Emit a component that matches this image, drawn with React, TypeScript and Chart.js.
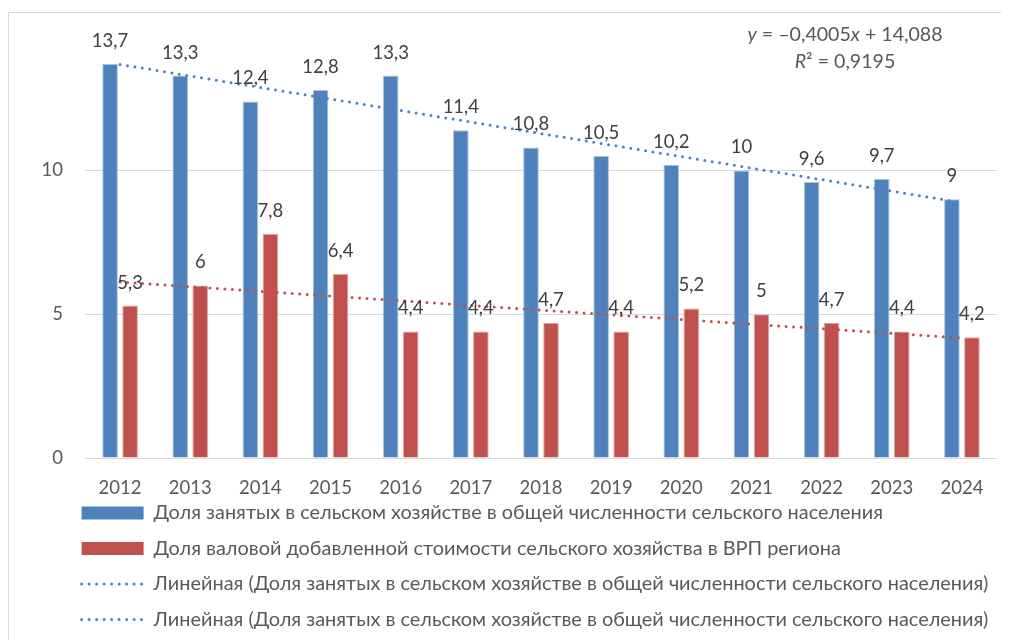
import React, { useEffect, useRef } from "react";
import { Chart, registerables } from "chart.js";

Chart.register(...registerables);

const categories = ["2012", "2013", "2014", "2015", "2016", "2017", "2018", "2019", "2020", "2021", "2022", "2023", "2024"];
const employmentShare = [13.7, 13.3, 12.4, 12.8, 13.3, 11.4, 10.8, 10.5, 10.2, 10, 9.6, 9.7, 9];
const gvaShare = [5.3, 6, 7.8, 6.4, 4.4, 4.4, 4.7, 4.4, 5.2, 5, 4.7, 4.4, 4.2];
const yTickValues = [0, 5, 10];
const seriesNames = [
  "Доля занятых в сельском хозяйстве в общей численности сельского населения",
  "Доля валовой добавленной стоимости сельского хозяйства в ВРП региона",
];
const legendTexts = [
  "Доля занятых в сельском хозяйстве в общей численности сельского населения",
  "Доля валовой добавленной стоимости сельского хозяйства в ВРП региона",
  "Линейная (Доля занятых в сельском хозяйстве в общей численности сельского населения)",
  "Линейная (Доля занятых в сельском хозяйстве в общей численности сельского населения)",
];

const BLUE = "#4f81bd";
const RED = "#c0504d";
const legendColors = [BLUE, RED, BLUE, BLUE];
const FONT = "Lato, 'Noto Sans', sans-serif";
const TEXT = "#595959";
const LABEL = "#404040";

function linearFit(values: number[]) {
  const n = values.length;
  const xs = values.map((_, i) => i + 1);
  const mx = xs.reduce((a, b) => a + b, 0) / n;
  const my = values.reduce((a, b) => a + b, 0) / n;
  let sxy = 0, sxx = 0, sst = 0;
  for (let i = 0; i < n; i++) {
    sxy += (xs[i] - mx) * (values[i] - my);
    sxx += (xs[i] - mx) ** 2;
    sst += (values[i] - my) ** 2;
  }
  const slope = sxy / sxx;
  const intercept = my - slope * mx;
  const fitted = xs.map((x) => slope * x + intercept);
  const ssr = fitted.reduce((a, f) => a + (f - my) ** 2, 0);
  return { slope, intercept, r2: ssr / sst, fitted };
}

const fmt = (v: number) => String(v).replace(".", ",");

export default function App() {
  const ref = useRef<HTMLCanvasElement | null>(null);

  useEffect(() => {
    document.body.style.overflow = "hidden";
    const blueFit = linearFit(employmentShare);
    const redFit = linearFit(gvaShare);

    const framePlugin = {
      id: "frame",
      afterLayout(chart: any) {
        const lg = chart.legend;
        if (lg) {
          lg.left = 58;
          lg.top = chart.chartArea.bottom + 29.45;
        }
      },
      beforeDraw(chart: any) {
        const ctx = chart.ctx;
        ctx.save();
        ctx.strokeStyle = "#d9d9d9";
        ctx.lineWidth = 1;
        ctx.beginPath();
        ctx.moveTo(0.5, chart.height);
        ctx.lineTo(0.5, 4.5);
        ctx.lineTo(chart.width, 4.5);
        ctx.stroke();
        ctx.restore();
      },
    };

    const labelPlugin = {
      id: "barLabels",
      afterDatasetsDraw(chart: any) {
        const ctx = chart.ctx;
        ctx.save();
        ctx.font = `18.5px ${FONT}`;
        ctx.fillStyle = LABEL;
        ctx.textAlign = "center";
        ctx.textBaseline = "middle";
        [0, 1].forEach((di) => {
          const meta = chart.getDatasetMeta(di);
          const data = chart.data.datasets[di].data as number[];
          meta.data.forEach((bar: any, i: number) => {
            ctx.fillText(fmt(data[i]), bar.x, bar.y - 23);
          });
        });
        ctx.restore();
      },
    };

    const equationPlugin = {
      id: "equation",
      afterDraw(chart: any) {
        const ctx = chart.ctx;
        const cx = chart.chartArea.right - 152;
        const y1 = 27;
        const y2 = 54;
        const slope = blueFit.slope.toFixed(4).replace("-", "–").replace(".", ",");
        const intercept = blueFit.intercept.toFixed(3).replace(".", ",");
        const r2 = blueFit.r2.toFixed(4).replace(".", ",");
        const size = 19.6;
        const drawParts = (parts: [string, boolean][], y: number) => {
          const widths = parts.map(([t, it]) => {
            ctx.font = `${it ? "italic " : ""}${size}px ${FONT}`;
            return ctx.measureText(t).width;
          });
          const total = widths.reduce((a, b) => a + b, 0);
          let x = cx - total / 2;
          parts.forEach(([t, it], i) => {
            ctx.font = `${it ? "italic " : ""}${size}px ${FONT}`;
            ctx.fillText(t, x, y);
            x += widths[i];
          });
        };
        ctx.save();
        ctx.fillStyle = TEXT;
        ctx.textAlign = "left";
        ctx.textBaseline = "middle";
        drawParts([["y", true], [` = ${slope}`, false], ["x", true], [` + ${intercept}`, false]], y1);
        drawParts([["R", true], [`² = ${r2}`, false]], y2);
        ctx.restore();
      },
    };

    const chart = new Chart(ref.current as HTMLCanvasElement, {
      type: "bar",
      data: {
        labels: categories,
        datasets: [
          {
            type: "bar",
            label: seriesNames[0],
            data: employmentShare,
            backgroundColor: BLUE,
            borderColor: "#a9c1df",
            borderWidth: 1,
            categoryPercentage: 0.571,
            barPercentage: 0.78,
            order: 1,
          },
          {
            type: "bar",
            label: seriesNames[1],
            data: gvaShare,
            backgroundColor: RED,
            borderColor: "#e0a8a6",
            borderWidth: 1,
            categoryPercentage: 0.571,
            barPercentage: 0.78,
            order: 1,
          },
          {
            type: "line",
            label: legendTexts[2],
            data: blueFit.fitted,
            borderColor: BLUE,
            borderWidth: 3,
            borderDash: [0, 7.5],
            borderCapStyle: "round",
            pointRadius: 0,
            fill: false,
            tension: 0,
            order: 0,
          },
          {
            type: "line",
            label: legendTexts[3],
            data: redFit.fitted,
            borderColor: RED,
            borderWidth: 3,
            borderDash: [0, 7.5],
            borderCapStyle: "round",
            pointRadius: 0,
            fill: false,
            tension: 0,
            order: 0,
          },
        ] as any,
      },
      options: {
        animation: false,
        responsive: true,
        maintainAspectRatio: false,
        events: [],
        layout: { padding: { left: 0, right: 12, top: 32.4, bottom: 6 } },
        scales: {
          x: {
            grid: { display: false, drawTicks: false },
            border: { display: false },
            ticks: { padding: 19, color: TEXT, font: { family: FONT, size: 18.5 } },
            afterFit: (s: any) => {
              s.height = 46;
            },
          },
          y: {
            min: 0,
            max: 14.5,
            grid: { color: "#d9d9d9", drawTicks: false, lineWidth: 1 },
            border: { display: false },
            ticks: { stepSize: 5, padding: 22, color: TEXT, font: { family: FONT, size: 18.5 } },
            afterBuildTicks: (s: any) => {
              s.ticks = yTickValues.map((v) => ({ value: v }));
            },
            afterFit: (s: any) => {
              s.width = 77;
            },
          },
        },
        plugins: {
          tooltip: { enabled: false },
          legend: {
            position: "bottom",
            align: "start",
            maxHeight: 130,
            labels: {
              usePointStyle: true,
              pointStyleWidth: 62,
              boxHeight: 13,
              padding: 15.6,
              color: TEXT,
              font: { family: FONT, size: 19.9 },
              generateLabels: () =>
                legendTexts.map((text, i) => {
                  const isLine = i >= 2;
                  return {
                    text,
                    fillStyle: isLine ? "rgba(0,0,0,0)" : legendColors[i],
                    strokeStyle: legendColors[i],
                    lineWidth: isLine ? 3 : 0,
                    lineDash: isLine ? [0, 7.5] : [],
                    lineCap: isLine ? "round" : "butt",
                    pointStyle: isLine ? "line" : "rect",
                    rotation: 0,
                    hidden: false,
                    datasetIndex: i,
                    fontColor: TEXT,
                  } as any;
                }),
            },
          },
        },
      },
      plugins: [framePlugin, labelPlugin, equationPlugin],
    });
    return () => chart.destroy();
  }, []);

  return (
    <div style={{ position: "relative", width: 1001, height: 632 }}>
      <canvas ref={ref} />
    </div>
  );
}
